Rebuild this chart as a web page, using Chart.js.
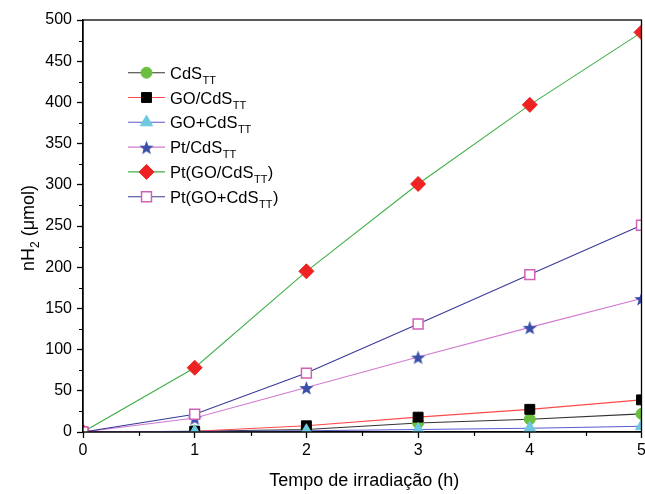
<!DOCTYPE html>
<html><head><meta charset="utf-8">
<script src="https://cdn.jsdelivr.net/npm/chart.js@4/dist/chart.umd.min.js"></script>
<style>html,body{margin:0;padding:0;background:#fff;overflow:hidden}#wrap{width:645px;height:494px;overflow:hidden;position:relative}canvas{display:block}</style>
</head><body><div id="wrap"></div>
<script>
// ---- data ----
const hours = [0, 1, 2, 3, 4, 5];
const cdsTT = [0, 1, 3, 11, 15.5, 22];
const goCdsTT = [0, 1, 7.5, 18, 27.5, 39];
const goPlusCdsTT = [0, 0.5, 1.5, 3, 4.5, 7];
const ptCdsTT = [0, 17, 54, 91, 127, 162];
const ptGoCdsTT = [0, 78, 195, 301, 397, 485];
const ptGoPlusCdsTT = [0, 21.5, 71.5, 131, 191, 251];
const seriesLabels = [
  ['CdS', 'TT', ''], ['GO/CdS', 'TT', ''], ['GO+CdS', 'TT', ''],
  ['Pt/CdS', 'TT', ''], ['Pt(GO/CdS', 'TT', ')'], ['Pt(GO+CdS', 'TT', ')']
];
const xTickValues = [0, 1, 2, 3, 4, 5];
const yTickValues = [0, 50, 100, 150, 200, 250, 300, 350, 400, 450, 500];
const xTitle = 'Tempo de irradiação (h)';
const yTitleParts = ['nH', '2', ' (μmol)'];

const FONT = '"Liberation Sans", Arial, sans-serif';
const TARGET_RIGHT = 641;

function makeStar(r, fill) {
  const s = Math.ceil(r * 2 + 2);
  const c = document.createElement('canvas');
  c.width = s; c.height = s;
  const g = c.getContext('2d');
  g.fillStyle = fill;
  g.beginPath();
  for (let i = 0; i < 10; i++) {
    const rr = i % 2 ? r * 0.42 : r;
    const a = -Math.PI / 2 + i * Math.PI / 5;
    g.lineTo(s / 2 + rr * Math.cos(a), s / 2 + 1 + rr * Math.sin(a));
  }
  g.closePath(); g.fill();
  return c;
}
const starImg = makeStar(7.5, '#3a4fa8');

const seriesValues = [cdsTT, goCdsTT, goPlusCdsTT, ptCdsTT, ptGoCdsTT, ptGoPlusCdsTT];
const styles = [
  { line: '#333333', fill: '#6abf3f', stroke: '#6abf3f', ps: 'circle', r: 5.5, bw: 1 },
  { line: '#ff4a4a', fill: '#000000', stroke: '#000000', ps: 'rect', r: 7, bw: 1 },
  { line: '#5a5ad0', fill: '#6cc9e0', stroke: '#6cc9e0', ps: 'triangle', r: 7, bw: 1 },
  { line: '#d27ad0', fill: '#3a4fa8', stroke: '#3a4fa8', ps: starImg, r: 7.5, bw: 1 },
  { line: '#43b04a', fill: '#ee2222', stroke: '#ee2222', ps: 'rectRot', r: 7.5, bw: 1 },
  { line: '#3a3a9a', fill: '#ffffff', stroke: '#d060b8', ps: 'rect', r: 7, bw: 1.5 }
];

function makeDatasets() {
  return seriesValues.map((vals, i) => ({
    label: seriesLabels[i].join(''),
    data: hours.map((h, k) => ({ x: h, y: vals[k] })),
    borderColor: styles[i].line,
    borderWidth: 1.1,
    backgroundColor: styles[i].fill,
    pointBackgroundColor: styles[i].fill,
    pointBorderColor: styles[i].stroke,
    pointBorderWidth: styles[i].bw,
    pointStyle: styles[i].ps,
    pointRadius: styles[i].r,
    pointHoverRadius: styles[i].r,
    tension: 0,
    fill: false,
    order: 10 - i
  }));
}

const decorPlugin = {
  id: 'decor',
  afterDatasetsDraw(chart) {
    const { ctx, chartArea: a, scales } = chart;
    ctx.save();
    ctx.strokeStyle = '#000';
    ctx.lineWidth = 1.3;
    ctx.strokeRect(a.left, a.top, a.right - a.left, a.bottom - a.top);
    // minor ticks
    ctx.lineWidth = 1.2;
    ctx.beginPath();
    for (let v = 25; v < 500; v += 50) {
      const y = Math.round(scales.y.getPixelForValue(v)) + 0.5;
      ctx.moveTo(a.left, y); ctx.lineTo(a.left - 4, y);
    }
    for (let v = 0.5; v < 5; v += 1) {
      const x = Math.round(scales.x.getPixelForValue(v)) + 0.5;
      ctx.moveTo(x, a.bottom); ctx.lineTo(x, a.bottom + 4);
    }
    ctx.stroke();
    ctx.restore();
  },
  afterDraw(chart) {
    const { ctx, chartArea: a } = chart;
    const H = Chart.helpers;
    ctx.save();
    // legend
    for (let i = 0; i < seriesLabels.length; i++) {
      const y = 72.7 + i * 24.8;
      const st = styles[i];
      ctx.strokeStyle = st.line; ctx.lineWidth = 1.1;
      ctx.beginPath(); ctx.moveTo(128, y); ctx.lineTo(165, y); ctx.stroke();
      ctx.fillStyle = st.fill; ctx.strokeStyle = st.stroke; ctx.lineWidth = st.bw;
      if (H && H.drawPoint) {
        H.drawPoint(ctx, { pointStyle: st.ps, radius: st.r, rotation: 0, borderWidth: st.bw }, 146.5, y);
      }
      const [main, sub, tail] = seriesLabels[i];
      ctx.fillStyle = '#000';
      ctx.textBaseline = 'alphabetic';
      ctx.textAlign = 'left';
      let x = 170;
      const base = y + 6;
      ctx.font = '16.5px ' + FONT;
      ctx.fillText(main, x, base); x += ctx.measureText(main).width;
      ctx.font = '11px ' + FONT;
      ctx.fillText(sub, x + 0.5, base + 5); x += ctx.measureText(sub).width + 1;
      ctx.font = '16.5px ' + FONT;
      if (tail) ctx.fillText(tail, x, base);
    }
    // x title
    ctx.font = '18px ' + FONT;
    ctx.textAlign = 'center';
    ctx.textBaseline = 'middle';
    ctx.fillText(xTitle, (a.left + a.right) / 2 + 2, 481);
    // y title
    ctx.translate(28, (a.top + a.bottom) / 2 + 2);
    ctx.rotate(-Math.PI / 2);
    ctx.textAlign = 'left';
    ctx.textBaseline = 'alphabetic';
    ctx.font = '18px ' + FONT;
    const w0 = ctx.measureText(yTitleParts[0]).width;
    const w2 = ctx.measureText(yTitleParts[2]).width;
    ctx.font = '12px ' + FONT;
    const w1 = ctx.measureText(yTitleParts[1]).width;
    let tx = -(w0 + w1 + w2) / 2;
    ctx.font = '18px ' + FONT;
    ctx.fillText(yTitleParts[0], tx, 6); tx += w0;
    ctx.font = '12px ' + FONT;
    ctx.fillText(yTitleParts[1], tx, 11); tx += w1;
    ctx.font = '18px ' + FONT;
    ctx.fillText(yTitleParts[2], tx, 6);
    ctx.restore();
  }
};

function build(width) {
  const wrap = document.getElementById('wrap');
  wrap.innerHTML = '';
  const cv = document.createElement('canvas');
  cv.width = width; cv.height = 494;
  cv.style.width = width + 'px'; cv.style.height = '494px';
  wrap.appendChild(cv);
  return new Chart(cv, {
    type: 'line',
    data: { datasets: makeDatasets() },
    options: {
      responsive: false,
      animation: false,
      events: [],
      layout: { padding: { top: 20, right: 0, left: 0, bottom: 0 } },
      plugins: { legend: { display: false }, tooltip: { enabled: false }, title: { display: false } },
      scales: {
        x: {
          type: 'linear', min: 0, max: 5,
          afterBuildTicks: s => { s.ticks = xTickValues.map(v => ({ value: v })); },
          afterFit: s => { s.height = 62; s.paddingLeft = 0; s.paddingRight = 0; },
          ticks: { color: '#000', font: { family: FONT, size: 16 }, padding: 3, maxRotation: 0, autoSkip: false },
          grid: { drawOnChartArea: false, drawTicks: true, tickLength: 6, tickColor: '#000', tickWidth: 1.3 },
          border: { color: '#000', width: 1.3 }
        },
        y: {
          type: 'linear', min: 0, max: 500,
          afterBuildTicks: s => { s.ticks = yTickValues.map(v => ({ value: v })); },
          afterFit: s => { s.width = 83; s.paddingTop = 0; s.paddingBottom = 0; },
          ticks: { color: '#000', font: { family: FONT, size: 16 }, padding: 5, autoSkip: false },
          grid: { drawOnChartArea: false, drawTicks: true, tickLength: 6, tickColor: '#000', tickWidth: 1.3 },
          border: { color: '#000', width: 1.3 }
        }
      }
    },
    plugins: [decorPlugin]
  });
}

let W = 645;
let chart = build(W);
const delta = Math.round(TARGET_RIGHT - chart.chartArea.right);
if (delta !== 0) {
  chart.destroy();
  W += delta;
  chart = build(W);
}
</script></body></html>
